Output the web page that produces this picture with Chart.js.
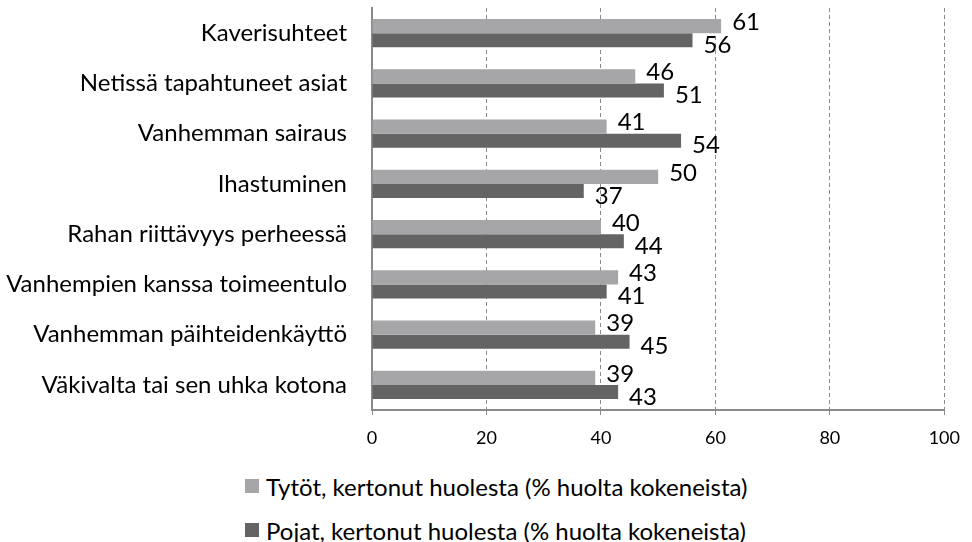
<!DOCTYPE html>
<html>
<head>
<meta charset="utf-8">
<script src="https://cdn.jsdelivr.net/npm/chart.js@4"></script>
<style>
    body { margin: 0; background: #fff; }
    #wrap { position: relative; width: 972px; height: 542px; overflow: hidden; }
    #chartBox { position: absolute; left: 0; top: 0; width: 972px; height: 460px; }
    #legend { position: absolute; left: 245px; top: 464px; font-family: Lato, sans-serif; font-size: 24px; color: #000; }
    #legend .row { display: flex; align-items: center; height: 44px; }
    #legend .box { width: 14px; height: 14px; margin-right: 7px; }
</style>
</head>
<body>
<div id="wrap">
    <div id="chartBox"><canvas id="chart"></canvas></div>
    <div id="legend"></div>
</div>
<script>
// Datos
const categorias = [
    'Kaverisuhteet',
    'Netissä tapahtuneet asiat',
    'Vanhemman sairaus',
    'Ihastuminen',
    'Rahan riittävyys perheessä',
    'Vanhempien kanssa toimeentulo',
    'Vanhemman päihteidenkäyttö',
    'Väkivalta tai sen uhka kotona'
];
const tytot = [61, 46, 41, 50, 40, 43, 39, 39];
const pojat = [56, 51, 54, 37, 44, 41, 45, 43];
const xTicks = [0, 20, 40, 60, 80, 100];

const FONT = 'Lato, sans-serif';

// Etiquetas de valor al final de cada barra
const valueLabels = {
    id: 'valueLabels',
    afterDatasetsDraw(chart) {
        const ctx = chart.ctx;
        ctx.save();
        ctx.font = '24px ' + FONT;
        ctx.fillStyle = '#000';
        ctx.textAlign = 'left';
        ctx.textBaseline = 'middle';
        chart.data.datasets.forEach((ds, i) => {
            const meta = chart.getDatasetMeta(i);
            const dy = i === 0 ? -4 : 5;
            meta.data.forEach((bar, j) => {
                ctx.fillText(String(ds.data[j]), bar.x + 11, bar.y + dy);
            });
        });
        ctx.restore();
    }
};

const chart = new Chart(document.getElementById('chart'), {
    type: 'bar',
    data: {
        labels: categorias,
        datasets: [
            {
                label: 'Tytöt, kertonut huolesta (% huolta kokeneista)',
                data: tytot,
                backgroundColor: '#a6a6a8',
                borderWidth: 0
            },
            {
                label: 'Pojat, kertonut huolesta (% huolta kokeneista)',
                data: pojat,
                backgroundColor: '#646464',
                borderWidth: 0
            }
        ]
    },
    options: {
        indexAxis: 'y',
        responsive: true,
        maintainAspectRatio: false,
        animation: false,
        datasets: {
            bar: { categoryPercentage: 0.56, barPercentage: 1.0 }
        },
        layout: { padding: { top: 0, right: 25, left: 0, bottom: 0 } },
        plugins: {
            legend: { display: false },
            tooltip: { enabled: false }
        },
        scales: {
            x: {
                min: 0,
                max: 100,
                afterBuildTicks: scale => {
                    scale.ticks = xTicks.map(v => ({ value: v }));
                },
                afterFit: scale => { scale.height = 50; },
                grid: {
                    color: '#8a8a8a',
                    lineWidth: 1,
                    tickLength: 5,
                    tickBorderDash: [],
                    tickColor: '#8a8a8a'
                },
                border: { display: true, color: '#8a8a8a', width: 2, dash: [4, 3] },
                ticks: {
                    color: '#000',
                    padding: 12,
                    font: { family: FONT, size: 18 }
                }
            },
            y: {
                afterFit: scale => {
                    scale.width = 372;
                    scale.paddingTop = 8;
                    scale.paddingBottom = 0;
                },
                grid: { display: false, drawTicks: false },
                border: { display: true, color: '#8a8a8a', width: 2 },
                ticks: {
                    color: '#000',
                    padding: 25,
                    font: { family: FONT, size: 24 }
                }
            }
        }
    },
    plugins: [valueLabels]
});

// Leyenda HTML en dos filas
const legend = document.getElementById('legend');
chart.data.datasets.forEach(ds => {
    const row = document.createElement('div');
    row.className = 'row';
    row.innerHTML = `<span class="box" style="background:${ds.backgroundColor}"></span><span>${ds.label}</span>`;
    legend.appendChild(row);
});
</script>
</body>
</html>
